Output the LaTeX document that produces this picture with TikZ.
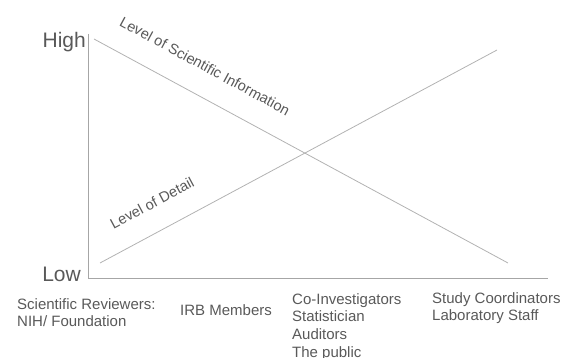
\documentclass[tikz,border=0pt]{standalone}
\usepackage{xcolor}
\usepackage{fontspec}
\setmainfont{Liberation Sans}
\usepackage{tikz}
\usetikzlibrary{positioning}
\definecolor{labeltext}{RGB}{89,89,89}
\definecolor{axisline}{RGB}{166,166,166}
\definecolor{trendline}{RGB}{178,178,178}

\begin{document}
\begin{tikzpicture}[x=1pt, y=-1pt, inner sep=0pt, text=labeltext]
    \useasboundingbox (0,0) rectangle (574,358);
    % axes
    \coordinate (origin) at (88,278);
    \coordinate (ytop) at (88,34);
    \coordinate (xend) at (548,278);
    \draw[axisline, line width=0.8pt] (ytop) -- (origin) -- (xend);
    
    \node[anchor=base east, font=\fontsize{21}{24}\selectfont] (high) at (86,48) {High};
    \node[anchor=base east, font=\fontsize{21}{24}\selectfont] (low) at (81,282) {Low};
    
    % the two trends
    \coordinate (sciA) at (94,39);
    \coordinate (sciB) at (508,263);
    \coordinate (detA) at (100,263);
    \coordinate (detB) at (497,50);
    \draw[trendline, line width=0.8pt] (sciA) -- (sciB);
    \draw[trendline, line width=0.8pt] (detA) -- (detB);
    
    \node[rotate=-28.4, font=\fontsize{14.6}{16}\selectfont] (scilabel) at (205,66) {Level of Scientific Information};
    \node[rotate=28.2, font=\fontsize{14.6}{16}\selectfont] (detlabel) at (152,203) {Level of Detail};
    
    % audiences
    \node[anchor=north west, align=left, font=\fontsize{15}{17.7}\selectfont] (reviewers) at (17,298) {Scientific Reviewers:\\NIH/ Foundation};
    \node[anchor=north west, align=left, font=\fontsize{15}{17.7}\selectfont] (irb) at (180,304) {IRB Members};
    \node[anchor=north west, align=left, font=\fontsize{15}{17.7}\selectfont] (coinv) at (292,293) {Co-Investigators\\Statistician\\Auditors\\The public};
    \node[anchor=north west, align=left, font=\fontsize{15}{17.7}\selectfont] (staff) at (432,292) {Study Coordinators\\Laboratory Staff};
\end{tikzpicture}
\end{document}
